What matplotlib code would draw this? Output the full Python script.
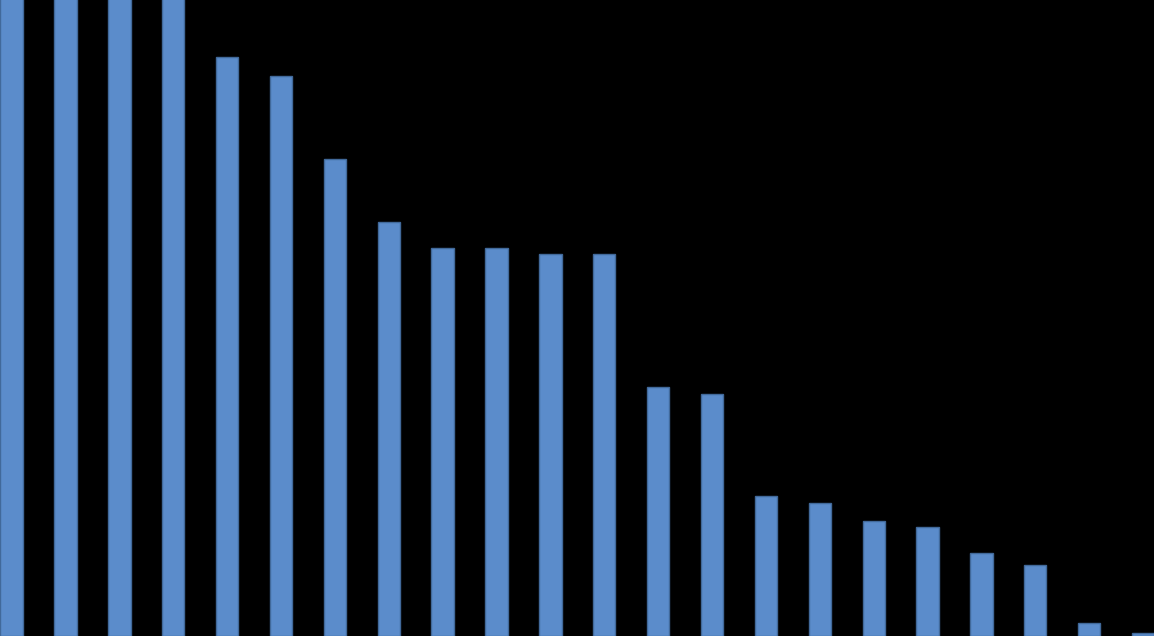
import matplotlib.pyplot as plt
import numpy as np

# categories (unlabelled in the source) and values
categories = list(range(1, 23))
values = [700, 700, 700, 700, 579, 560, 477, 414, 388, 388, 382, 382,
          249, 242, 140, 133, 115, 109, 83, 71, 13, 3]

fig = plt.figure(figsize=(11.54, 6.36), dpi=100, facecolor="black")
ax = fig.add_axes([0.0, 0.0, 1.0, 1.0])
ax.set_facecolor("black")

step = 53.88  # px between bar centres
x = np.arange(len(categories))
ax.bar(x, values, width=22.3 / step, color="#5B8CCB", edgecolor="#41699A",
       linewidth=1.0)

left = -11.6 / step
ax.set_xlim(left, left + 1154 / step)
ax.set_ylim(0, 636)
ax.set_axis_off()

fig.savefig("out.png", dpi=100, facecolor="black")
